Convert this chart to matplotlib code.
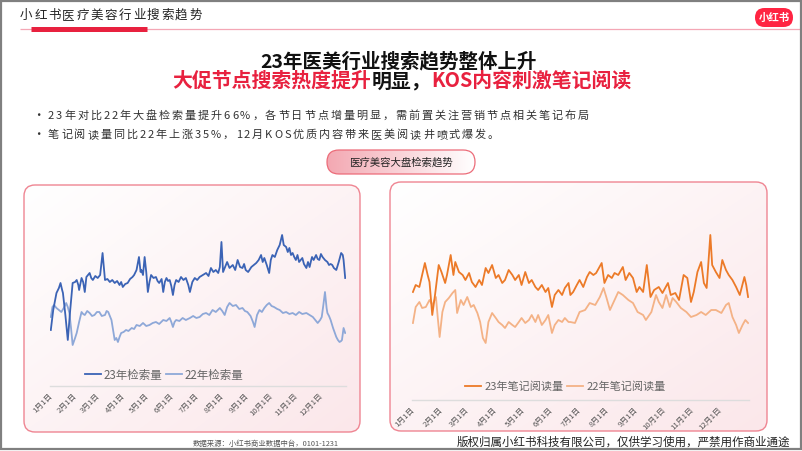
import numpy as np
import matplotlib
matplotlib.use("Agg")
import matplotlib.pyplot as plt
from matplotlib.patches import FancyBboxPatch, Rectangle
from matplotlib.colors import LinearSegmentedColormap

plt.rcParams['font.family'] = ['Noto Sans CJK SC', 'DejaVu Sans']

# 医疗美容大盘检索量（日序号, 指数）
search_23_day = [0, 3, 7, 10, 12, 14, 15, 18, 21, 24, 27, 30, 32, 34, 35, 38, 40, 42, 44, 46,
                 48, 50, 52, 55, 58, 61, 64, 67, 70, 73, 76, 79, 82, 85, 87, 89, 92, 95, 98, 101,
                 103, 106, 109, 111, 112, 114, 116, 118, 120, 122, 124, 127, 130, 132, 134, 137,
                 139, 141, 143, 145, 147, 149, 151, 153, 155, 158, 161, 164, 167, 170, 172, 175,
                 178, 181, 184, 188, 192, 195, 198, 201, 204, 207, 209, 211, 213, 216, 218, 221,
                 225, 228, 231, 234, 237, 239, 241, 244, 248, 251, 254, 257, 260, 262, 264, 267,
                 270, 272, 274, 277, 280, 283, 286, 288, 291, 293, 295, 297, 299, 301, 303, 305,
                 307, 309, 311, 313, 316, 318, 320, 322, 323, 325, 328, 330, 332, 334, 336, 339,
                 342, 344, 346, 348, 350, 353, 356, 359, 361, 362, 364]
search_23_val = [70, 90, 107, 112, 117, 110, 107, 85, 60, 90, 117, 118, 120, 115, 110, 122, 118,
                 108, 123, 125, 127, 122, 120, 124, 122, 125, 147, 120, 121, 118, 120, 117, 119,
                 115, 118, 113, 116, 117, 121, 123, 125, 130, 143, 128, 130, 125, 143, 128, 108,
                 118, 125, 122, 123, 119, 117, 121, 108, 118, 122, 119, 120, 114, 105, 115, 120,
                 118, 123, 120, 122, 115, 108, 118, 122, 120, 123, 125, 127, 124, 132, 128, 130,
                 127, 133, 158, 128, 134, 138, 132, 135, 130, 140, 133, 132, 136, 130, 128, 133,
                 135, 137, 140, 145, 138, 142, 135, 127, 140, 145, 143, 150, 155, 165, 155, 153,
                 148, 152, 145, 147, 143, 140, 145, 138, 140, 142, 136, 132, 138, 133, 140, 143,
                 140, 145, 141, 140, 146, 143, 140, 138, 135, 136, 135, 132, 130, 138, 147, 145,
                 140, 122]
search_22_day = [0, 2, 4, 7, 10, 13, 16, 19, 21, 23, 25, 27, 30, 32, 35, 38, 40, 42, 45, 48,
                 51, 54, 57, 60, 63, 67, 69, 71, 73, 75, 77, 79, 81, 83, 85, 87, 90, 93, 96, 100,
                 103, 106, 110, 114, 118, 122, 126, 130, 134, 139, 143, 147, 149, 151, 153, 155,
                 159, 163, 167, 172, 176, 180, 184, 188, 192, 196, 200, 204, 209, 212, 215, 218,
                 221, 225, 229, 233, 237, 240, 243, 247, 250, 252, 255, 258, 261, 264, 267, 270,
                 273, 276, 280, 283, 287, 291, 295, 299, 303, 307, 311, 316, 320, 324, 327, 330,
                 333, 335, 337, 339, 341, 342, 344, 346, 349, 353, 355, 357, 359, 360, 362, 364]
search_22_val = [83, 93, 95, 92, 90, 88, 92, 97, 93, 87, 72, 55, 62, 67, 78, 88, 86, 85, 89, 87,
                 84, 85, 88, 88, 84, 85, 89, 88, 84, 80, 70, 60, 62, 58, 63, 67, 68, 70, 69, 72,
                 71, 75, 74, 77, 74, 75, 77, 78, 76, 80, 79, 82, 78, 73, 78, 80, 79, 82, 80, 82,
                 84, 82, 83, 86, 87, 85, 90, 88, 92, 89, 85, 93, 97, 94, 95, 91, 92, 89, 88, 84,
                 78, 73, 85, 90, 88, 92, 95, 97, 94, 93, 91, 90, 87, 88, 86, 87, 85, 88, 86, 87,
                 85, 83, 80, 77, 80, 83, 95, 108, 92, 87, 84, 80, 72, 63, 60, 58, 59, 60, 72, 67]

# 笔记阅读量
read_23_day = [0, 3, 7, 10, 13, 16, 18, 21, 24, 28, 31, 35, 37, 41, 44, 46, 50, 54, 57, 61,
               64, 68, 72, 75, 79, 82, 86, 90, 93, 97, 100, 104, 108, 111, 115, 118, 122, 126,
               129, 133, 136, 140, 144, 147, 151, 154, 158, 162, 165, 169, 171, 174, 178, 181,
               185, 189, 192, 196, 199, 205, 208, 212, 216, 219, 223, 228, 231, 235, 239, 243,
               246, 250, 254, 258, 262, 267, 271, 277, 280, 285, 289, 294, 298, 302, 305, 309,
               313, 316, 319, 323, 325, 329, 333, 336, 340, 343, 347, 351, 355, 360, 362, 364]
read_23_val = [108, 115, 113, 125, 137, 125, 118, 85, 105, 135, 128, 117, 125, 145, 125, 138,
               128, 125, 120, 127, 118, 113, 120, 115, 132, 127, 135, 122, 125, 117, 120, 130,
               125, 120, 125, 115, 128, 117, 120, 113, 110, 115, 108, 112, 93, 105, 110, 105,
               112, 117, 105, 108, 115, 120, 113, 123, 128, 125, 127, 137, 117, 125, 122, 127,
               125, 133, 120, 127, 122, 108, 113, 108, 135, 103, 110, 113, 107, 117, 105, 107,
               100, 125, 122, 98, 108, 128, 138, 117, 112, 165, 135, 128, 122, 140, 130, 125,
               120, 113, 105, 123, 115, 103]
read_22_day = [0, 3, 7, 10, 14, 18, 21, 25, 27, 29, 32, 35, 39, 43, 46, 48, 52, 55, 59, 63,
               66, 70, 73, 76, 79, 82, 86, 90, 93, 97, 100, 104, 108, 111, 115, 118, 122, 126,
               129, 133, 136, 140, 144, 147, 151, 154, 158, 162, 165, 169, 171, 176, 181, 187,
               192, 198, 203, 207, 210, 214, 220, 223, 228, 234, 239, 244, 250, 253, 259, 264,
               267, 271, 275, 279, 282, 286, 291, 297, 302, 308, 313, 318, 324, 329, 335, 340,
               343, 347, 351, 354, 358, 361, 364]
read_22_val = [77, 93, 98, 92, 93, 100, 95, 103, 82, 63, 88, 98, 102, 107, 110, 87, 100, 95,
               103, 93, 95, 87, 78, 62, 57, 78, 87, 82, 78, 75, 72, 78, 75, 73, 78, 82, 77, 80,
               85, 78, 85, 75, 80, 85, 67, 75, 80, 78, 82, 78, 78, 77, 88, 90, 97, 95, 103, 112,
               103, 90, 102, 108, 105, 100, 97, 88, 85, 80, 88, 105, 98, 92, 105, 93, 102, 98,
               92, 88, 83, 85, 88, 85, 90, 90, 87, 95, 97, 83, 75, 67, 75, 80, 77]

month_ticks = [0, 31, 59, 90, 120, 151, 181, 212, 243, 273, 304, 334]
month_labels = [f"{m}月1日" for m in range(1, 13)]

RED = '#e8213f'
W, H = 802, 451
fig = plt.figure(figsize=(W / 100, H / 100), dpi=100)
fig.patch.set_facecolor('white')
bg = fig.add_axes([0, 0, 1, 1])
bg.set_xlim(0, W)
bg.set_ylim(H, 0)
bg.axis('off')
renderer = fig.canvas.get_renderer()


def spaced(x, y, s, gap, **kw):
    # 字間を空けて1文字ずつ描く
    for ch in s:
        t = bg.text(x, y, ch, ha='left', va='baseline', **kw)
        x += t.get_window_extent(renderer).width + gap
    return x


def segments(xc, y, parts, **kw):
    ts = [bg.text(0, y, s, color=c, ha='left', va='baseline', **kw) for s, c in parts]
    ws = [t.get_window_extent(renderer).width for t in ts]
    x = xc - sum(ws) / 2
    for t, w in zip(ts, ws):
        t.set_x(x)
        x += w


def gradient_box(x0, y0, x1, y1, r, c0, c1, edge, lw, horizontal=False):
    patch = FancyBboxPatch((x0, y0), x1 - x0, y1 - y0,
                           boxstyle=f"round,pad=0,rounding_size={r}",
                           facecolor='none', edgecolor=edge, linewidth=lw, zorder=2)
    bg.add_patch(patch)
    g = np.linspace(0, 1, 256)
    if horizontal:
        img = np.tile(g, (2, 1))
    else:
        gx, gy = np.meshgrid(g, g)
        img = (gx + gy) / 2
    cmap = LinearSegmentedColormap.from_list('c', [c0, c1])
    im = bg.imshow(img, extent=[x0, x1, y1, y0], cmap=cmap, aspect='auto', zorder=1,
                   interpolation='bilinear')
    im.set_clip_path(patch)


# frame and header
bg.add_patch(Rectangle((0.7, 0.7), W - 1.6, H - 2.5, fill=False, edgecolor='#808080', lw=1.6, zorder=5))
spaced(20, 19, "小红书医疗美容行业搜索趋势", 1.6, fontsize=9, color='#222222')
bg.plot([20, W], [29, 29], color='#f4a7b5', lw=0.9, solid_capstyle='butt')
bg.plot([31, 147], [29, 29], color=RED, lw=3.6, solid_capstyle='butt')
bg.add_patch(FancyBboxPatch((755, 8), 38, 19, boxstyle="round,pad=0,rounding_size=9.5",
                            facecolor='#ff2442', edgecolor='none'))
bg.text(774, 17.5, "小红书", color='white', fontsize=7.5, fontweight='bold', ha='center', va='center')

# titles
segments(399, 67, [("23年医美行业搜索趋势整体上升", '#111111')], fontsize=14, fontweight='bold')
segments(402, 87, [("大促节点搜索热度提升", RED), ("明显，", '#111111'),
                   ("KOS内容刺激笔记阅读", RED)], fontsize=14.3, fontweight='bold')

bg.text(32, 119, "•", fontsize=9, color='#333333', ha='left', va='baseline')
bg.text(32, 138, "•", fontsize=9, color='#333333', ha='left', va='baseline')
spaced(48, 119, "23年对比22年大盘检索量提升66%，各节日节点增量明显，需前置关注营销节点相关笔记布局",
       1.9, fontsize=8, color='#333333')
spaced(48, 138, "笔记阅读量同比22年上涨35%，12月KOS优质内容带来医美阅读井喷式爆发。",
       1.9, fontsize=8, color='#333333')

# pill
gradient_box(327, 150, 475, 174, 12, '#f3a8b2', '#ffffff', '#ec6c79', 0.9, horizontal=True)
bg.text(401, 162.5, "医疗美容大盘检索趋势", fontsize=7.5, color='#222222', ha='center', va='center', zorder=3)

# cards
gradient_box(24, 185, 360, 432, 11, '#ffffff', '#fbe7ea', '#ef8592', 1.0)
gradient_box(390, 182, 767, 431, 11, '#ffffff', '#fbe7ea', '#ef8592', 1.0)

# footers
bg.text(193, 444, "数据来源：小红书商业数据中台，0101-1231", fontsize=5.3, color='#555555',
        ha='left', va='center')
bg.text(457, 446, "版权归属小红书科技有限公司，仅供学习使用，严禁用作商业通途", fontsize=8.3,
        color='#222222', ha='left', va='baseline')


def chart(rect, days_a, vals_a, days_b, vals_b, ca, cb, la, lb, ylim, leg_xy, leg_fs, hl):
    ax = fig.add_axes(rect)
    ax.set_facecolor('none')
    ax.plot(days_a, vals_a, color=ca, lw=1.3, label=la, zorder=3)
    ax.plot(days_b, vals_b, color=cb, lw=1.3, label=lb, zorder=2)
    ax.set_xlim(-1, 365)
    ax.set_ylim(*ylim)
    for s in ['top', 'right', 'left']:
        ax.spines[s].set_visible(False)
    ax.spines['bottom'].set_color('#dddddd')
    ax.spines['bottom'].set_linewidth(1.0)
    ax.set_yticks([])
    ax.set_xticks(month_ticks)
    ax.set_xticklabels(month_labels, rotation=45, ha='right', va='center',
                       rotation_mode='anchor', fontsize=5.6, color='#555555')
    ax.tick_params(axis='x', length=0, pad=6)
    ax.legend(loc='center', bbox_to_anchor=(leg_xy[0] / W, 1 - leg_xy[1] / H),
              bbox_transform=fig.transFigure, ncol=2, frameon=False, fontsize=leg_fs,
              handlelength=hl, handletextpad=0.25, columnspacing=0.3, labelcolor='#666666')
    return ax


chart([50 / W, 1 - 386 / H, 296 / W, 181 / H], search_23_day, search_23_val,
      search_22_day, search_22_val, '#3b63b5', '#8ea8d8', "23年检索量", "22年检索量",
      (14, 195), (164, 375), 8.3, 1.4)
chart([412 / W, 1 - 400 / H, 337 / W, 195 / H], read_23_day, read_23_val,
      read_22_day, read_22_val, '#ec7a28', '#f4b286', "23年笔记阅读量", "22年笔记阅读量",
      (0, 195), (565, 387), 8.0, 1.5)

fig.savefig('out.png', dpi=100)
